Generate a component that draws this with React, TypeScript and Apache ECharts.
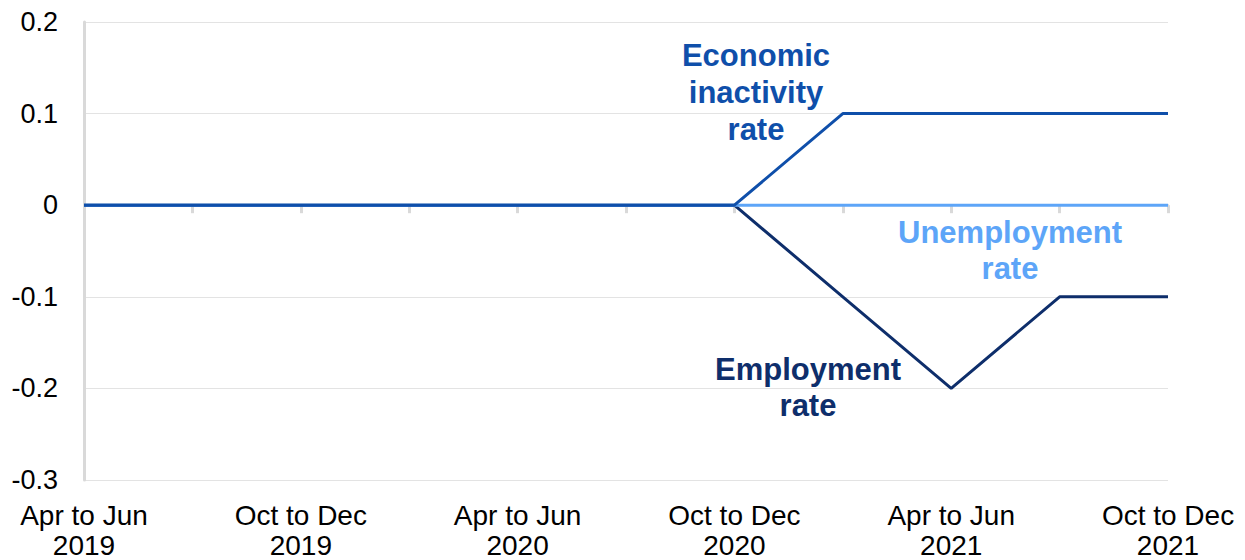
import React, { useEffect, useRef } from "react";
import * as echarts from "echarts";

const categories = [
  "Apr to Jun 2019", "Jul to Sep 2019", "Oct to Dec 2019",
  "Jan to Mar 2020", "Apr to Jun 2020", "Jul to Sep 2020",
  "Oct to Dec 2020", "Jan to Mar 2021", "Apr to Jun 2021",
  "Jul to Sep 2021", "Oct to Dec 2021",
];
const employmentRate = [0, 0, 0, 0, 0, 0, 0, -0.1, -0.2, -0.1, -0.1];
const unemploymentRate = [0, 0, 0, 0, 0, 0, 0, 0, 0, 0, 0];
const inactivityRate = [0, 0, 0, 0, 0, 0, 0, 0.1, 0.1, 0.1, 0.1];
const yTicks = { min: -0.3, max: 0.2, interval: 0.1 };

const FONT = '"Liberation Sans", Arial, sans-serif';
const C_INACT = "#0F4FAA";
const C_UNEMP = "#5DA5F8";
const C_EMP = "#0E2E6B";

export default function App() {
  const ref = useRef<HTMLDivElement>(null);
  useEffect(() => {
    if (!ref.current) return;
    const chart = echarts.init(ref.current, undefined, { renderer: "svg" });
    const splitLabel = (v: string) => {
      const parts = v.split(" ");
      return parts.slice(0, 3).join(" ") + "\n" + parts.slice(3).join(" ");
    };
    chart.setOption({
      animation: false,
      backgroundColor: "#ffffff",
      textStyle: { fontFamily: FONT },
      grid: { left: 84, right: 77, top: 22, bottom: 80, containLabel: false, outerBoundsMode: "none" },
      xAxis: [
        {
          type: "category",
          data: categories,
          boundaryGap: false,
          position: "bottom",
          axisLine: { show: false, onZero: false },
          axisTick: { show: false },
          splitLine: { show: false },
          axisLabel: {
            interval: 1,
            formatter: splitLabel,
            fontSize: 28,
            lineHeight: 30,
            color: "#000000",
            fontFamily: FONT,
            margin: 20,
          },
        },
        {
          type: "category",
          data: categories,
          boundaryGap: false,
          position: "bottom",
          axisLine: { show: true, onZero: true, lineStyle: { color: "#d9d9d9", width: 2 } },
          axisTick: { show: true, interval: 0, length: 8, lineStyle: { color: "#d9d9d9", width: 3 } },
          axisLabel: { show: false },
          splitLine: { show: false },
        },
      ],
      yAxis: {
        type: "value",
        min: yTicks.min,
        max: yTicks.max,
        interval: yTicks.interval,
        axisLine: { show: true, onZero: false, lineStyle: { color: "#d9d9d9", width: 3 } },
        axisTick: { show: false },
        splitLine: { show: true, lineStyle: { color: "#e3e3e3", width: 1 } },
        axisLabel: {
          fontSize: 27,
          color: "#000000",
          fontFamily: FONT,
          margin: 26,
          formatter: (v: number) => (Math.abs(v) < 1e-9 ? "0" : v.toFixed(1)),
        },
      },
      series: [
        {
          name: "Employment rate",
          type: "line",
          data: employmentRate,
          symbol: "none",
          lineStyle: { color: C_EMP, width: 3 },
          itemStyle: { color: C_EMP },
        },
        {
          name: "Unemployment rate",
          type: "line",
          data: unemploymentRate,
          symbol: "none",
          lineStyle: { color: C_UNEMP, width: 3 },
          itemStyle: { color: C_UNEMP },
        },
        {
          name: "Economic inactivity rate",
          type: "line",
          data: inactivityRate,
          symbol: "none",
          lineStyle: { color: C_INACT, width: 3 },
          itemStyle: { color: C_INACT },
        },
      ],
      graphic: [
        {
          type: "text",
          x: 756,
          y: 37,
          style: {
            text: "Economic\ninactivity\nrate",
            fill: C_INACT,
            font: `bold 31px ${FONT}`,
            lineHeight: 37,
            textAlign: "center",
            textVerticalAlign: "top",
          },
        },
        {
          type: "text",
          x: 1010,
          y: 214,
          style: {
            text: "Unemployment\nrate",
            fill: C_UNEMP,
            font: `bold 31px ${FONT}`,
            lineHeight: 36,
            textAlign: "center",
            textVerticalAlign: "top",
          },
        },
        {
          type: "text",
          x: 808,
          y: 351,
          style: {
            text: "Employment\nrate",
            fill: C_EMP,
            font: `bold 31px ${FONT}`,
            lineHeight: 36,
            textAlign: "center",
            textVerticalAlign: "top",
          },
        },
      ],
    });
    return () => chart.dispose();
  }, []);
  return (
    <div
      ref={ref}
      style={{ position: "fixed", left: 0, top: 0, width: 1245, height: 560, background: "#fff" }}
    />
  );
}
